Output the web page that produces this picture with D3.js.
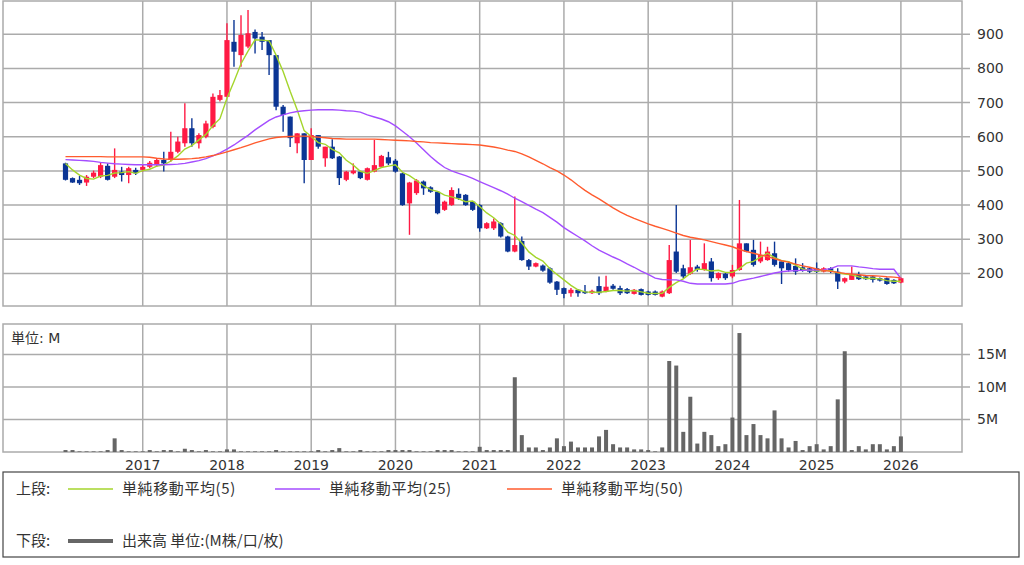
<!DOCTYPE html>
<html><head><meta charset="utf-8">
<script src="https://cdn.jsdelivr.net/npm/d3@7"></script>
<style>body{margin:0;background:#fff;}svg{display:block;}</style>
</head><body><svg id="c" width="1024" height="565"></svg>
<script>
// ---- data (monthly, 2016-02 .. 2026-01) ----
const months = d3.utcMonth.range(new Date(Date.UTC(2016,1,1)), new Date(Date.UTC(2026,1,1))).map(d3.utcFormat("%Y-%m"));
const open  = [522,479,474,466,483,483,515,483,498,488,503,503,512,517,532,532,556,581,625,581,600,629,708,717,878,839,864,907,893,883,839,688,659,581,610,532,605,537,571,542,474,493,498,474,498,512,540,530,493,405,435,469,452,439,386,400,433,430,410,400,332,332,347,308,264,295,239,220,223,215,176,157,142,152,147,142,163,147,164,157,154,140,154,147,147,132,142,264,215,199,220,210,235,186,199,191,210,288,269,235,239,259,235,230,222,218,215,215,205,215,205,176,181,196,191,191,186,186,181,173];
const high  = [524,481,485,488,501,524,522,566,512,512,509,517,529,537,556,615,600,698,654,610,647,727,737,932,942,956,971,914,907,883,839,693,659,610,610,625,605,571,593,544,500,522,500,510,591,547,556,535,495,468,476,472,455,441,413,452,449,432,412,403,350,361,350,310,425,308,242,232,226,218,178,159,157,154,166,152,191,193,169,164,157,154,156,149,150,150,283,400,225,298,225,288,245,203,201,225,415,288,298,293,278,293,239,235,244,230,218,232,218,218,215,188,220,205,193,193,188,188,183,188];
const low   = [472,465,459,456,479,479,472,479,469,464,488,498,508,512,498,527,552,571,571,566,596,625,703,717,805,805,859,844,854,781,678,615,570,552,464,532,565,512,535,459,470,490,476,472,496,510,517,495,398,313,430,430,436,373,383,398,415,398,383,322,330,327,305,262,262,237,210,218,205,170,137,127,132,132,140,140,137,145,152,137,140,138,135,135,135,130,140,201,186,196,205,208,176,181,181,186,208,262,220,230,237,220,169,205,196,205,201,201,203,201,154,171,181,181,181,173,176,167,169,171];
const close = [474,466,464,483,495,517,474,503,488,508,493,512,524,532,522,556,586,625,581,605,639,717,722,883,849,898,903,888,878,839,688,664,596,610,532,605,571,571,537,479,498,501,479,508,517,544,522,498,400,466,472,449,439,376,410,444,420,400,386,332,347,352,308,264,283,239,220,230,208,173,152,140,152,142,142,149,142,161,155,142,142,152,137,137,137,147,239,205,191,218,210,230,186,201,186,210,288,264,225,254,264,225,215,210,205,208,205,205,215,208,176,186,196,183,183,181,179,169,171,186];
const volume = [0.3,0.3,0.1,0.1,0.1,0.1,0.3,2.1,0.3,0.1,0.1,0.1,0.3,0.1,0.3,0.3,0.1,0.5,0.3,0.1,0.3,0.1,0.1,0.4,0.4,0.1,0.1,0.1,0.1,0.1,0.3,0.1,0.1,0.1,0.1,0.1,0.3,0.1,0.3,0.6,0.1,0.1,0.3,0.1,0.1,0.1,0.3,0.3,0.3,0.3,0.1,0.1,0.1,0.3,0.3,0.3,0.1,0.1,0.1,0.8,0.3,0.3,0.3,0.3,11.5,2.6,0.7,0.7,0.3,0.7,2.1,0.9,1.6,0.7,0.7,0.7,2.4,3.4,1.2,0.7,0.7,0.4,0.4,0.3,0.1,0.7,14.0,13.3,3.1,8.5,1.3,3.1,2.6,0.9,1.2,5.3,18.3,2.6,4.3,2.6,2.1,6.4,2.1,0.7,1.7,0.3,0.9,1.2,0.4,0.9,8.1,15.5,0.3,0.9,0.4,1.2,1.2,0.4,0.9,2.4];
const ma5  = [522,503,488,478,476,485,487,494,495,498,493,501,505,514,517,529,544,564,574,591,607,633,653,713,762,814,851,884,883,881,839,791,733,679,618,601,583,578,563,553,531,517,499,493,501,510,514,518,496,486,472,457,445,440,429,424,418,410,412,396,377,363,345,321,311,289,263,247,236,214,197,181,165,152,146,145,145,147,150,150,148,150,146,142,141,142,159,173,184,200,213,211,207,209,203,203,214,230,235,248,259,246,237,234,224,213,209,207,208,208,202,198,196,190,185,186,184,179,177,177];
const ma25 = [533,532,531,530,528,525,523,521,520,519,518,518,518,518,518,519,520,522,526,530,536,544,553,564,576,590,604,620,634,648,658,664,670,674,676,678,679,679,679,678,676,675,672,664,658,652,644,632,616,600,582,562,542,525,510,500,493,486,478,469,460,451,442,432,420,410,399,388,378,364,350,334,321,308,295,281,268,258,248,239,228,218,207,197,186,182,181,181,177,171,169,169,169,169,169,171,178,182,186,191,196,201,205,207,208,209,210,210,211,214,222,222,222,219,217,214,212,212,212,185];
const ma50 = [542,542,542,542,542,542,541,541,541,541,541,541,540,537,535,534,534,535,536,538,541,545,550,556,562,568,575,582,588,594,598,600,601,602,602,601,599,597,595,594,593,593,593,593,593,592,591,590,589,588,586,585,583,582,581,580,579,578,577,576,573,570,566,561,557,550,541,531,521,510,500,488,474,458,443,430,418,405,392,380,370,361,353,345,338,332,325,318,311,306,302,298,293,288,283,278,270,264,259,254,249,243,237,233,227,222,218,213,209,206,203,200,198,196,194,193,192,190,189,187];
const priceTicks = [200,300,400,500,600,700,800,900];
const volTicks = [5,10,15];
const volTickLabels = ["5M","10M","15M"];
const yearLabels = ["2017","2018","2019","2020","2021","2022","2023","2024","2025","2026"];
const legendItems = [
  {label:"単純移動平均(5)", color:"#a4d52c"},
  {label:"単純移動平均(25)", color:"#a44dff"},
  {label:"単純移動平均(50)", color:"#ff5b2e"}
];

// ---- drawing ----
const svg = d3.select("#c");
const FONT = "'DejaVu Sans','Noto Sans CJK JP',sans-serif";
const L = 3, R = 962;
const top1 = 1, bot1 = 306, top2 = 324, bot2 = 452;
const GRID = "#ababab";
const UP = "#ff1a44", DOWN = "#0b3594";

const x = d3.scalePoint().domain(months).range([65.5, 900.9]);
const y = d3.scaleLinear().domain([200, 900]).range([273.4, 34.3]);
const yv = d3.scaleLinear().domain([0, 5]).range([bot2, bot2 - 32.5]);

const yearX = yearLabels.map(yr => x(yr + "-01"));

function panel(t, b) {
  const g = svg.append("g");
  g.append("rect").attr("x", L).attr("y", t).attr("width", R - L).attr("height", b - t)
    .attr("fill", "#fff").attr("stroke", GRID).attr("stroke-width", 1.5);
  g.selectAll("line.v").data(yearX).join("line")
    .attr("x1", d => d).attr("x2", d => d).attr("y1", t).attr("y2", b)
    .attr("stroke", GRID).attr("stroke-width", 1.5);
  return g;
}

// upper panel
const g1 = panel(top1, bot1);
g1.selectAll("line.h").data(priceTicks).join("line")
  .attr("x1", L).attr("x2", R + 8).attr("y1", d => y(d)).attr("y2", d => y(d))
  .attr("stroke", GRID).attr("stroke-width", 1.5);
g1.selectAll("text.yl").data(priceTicks).join("text")
  .attr("x", 977).attr("y", d => y(d)).attr("dy", "0.35em")
  .attr("font-family", FONT).attr("font-size", 14).attr("fill", "#333")
  .text(d => d);

svg.append("clipPath").attr("id", "cp1").append("rect")
  .attr("x", L).attr("y", top1).attr("width", R - L).attr("height", bot1 - top1);
const gc = svg.append("g").attr("clip-path", "url(#cp1)");

const idx = d3.range(months.length);
const cg = gc.selectAll("g.c").data(idx).join("g");
cg.append("line")
  .attr("x1", i => x(months[i])).attr("x2", i => x(months[i]))
  .attr("y1", i => y(high[i])).attr("y2", i => y(low[i]))
  .attr("stroke", i => close[i] >= open[i] ? UP : DOWN).attr("stroke-width", 1.4);
cg.append("rect")
  .attr("x", i => x(months[i]) - 2.6).attr("width", 5.2)
  .attr("y", i => y(Math.max(open[i], close[i])))
  .attr("height", i => Math.max(1.5, Math.abs(y(open[i]) - y(close[i]))))
  .attr("fill", i => close[i] >= open[i] ? UP : DOWN);

const maLines = [ma5, ma25, ma50];
maLines.forEach((arr, k) => {
  gc.append("path")
    .datum(idx)
    .attr("d", d3.line().x(i => x(months[i])).y(i => y(arr[i])))
    .attr("fill", "none").attr("stroke", legendItems[k].color).attr("stroke-width", 1.4);
});

// volume panel
const g2 = panel(top2, bot2);
g2.selectAll("line.h").data(volTicks).join("line")
  .attr("x1", L).attr("x2", R + 8).attr("y1", d => yv(d)).attr("y2", d => yv(d))
  .attr("stroke", GRID).attr("stroke-width", 1.5);
g2.selectAll("text.yl").data(volTicks).join("text")
  .attr("x", 977).attr("y", d => yv(d)).attr("dy", "0.35em")
  .attr("font-family", FONT).attr("font-size", 14).attr("fill", "#333")
  .text((d, i) => volTickLabels[i]);
g2.selectAll("rect.vb").data(idx).join("rect")
  .attr("x", i => x(months[i]) - 2).attr("width", 4)
  .attr("y", i => yv(volume[i])).attr("height", i => bot2 - yv(volume[i]))
  .attr("fill", "#666");
g2.append("text").attr("x", 11).attr("y", 338).attr("dy", "0.35em")
  .attr("font-family", FONT).attr("font-size", 14).attr("fill", "#333").text("単位: M");

// year labels
svg.selectAll("text.yr").data(yearLabels).join("text")
  .attr("x", (d, i) => yearX[i]).attr("y", 465).attr("dy", "0.35em")
  .attr("text-anchor", "middle")
  .attr("font-family", FONT).attr("font-size", 14).attr("fill", "#333")
  .text(d => d);

// legend
const lg = svg.append("g");
lg.append("rect").attr("x", 3).attr("y", 472).attr("width", 1016).attr("height", 85)
  .attr("fill", "#fff").attr("stroke", "#444").attr("stroke-width", 1.2);
const LF = "'Noto Sans CJK JP',sans-serif";
lg.append("text").attr("x", 16).attr("y", 489).attr("dy", "0.35em")
  .attr("font-family", LF).attr("font-size", 15).attr("fill", "#333").text("上段:");
const legX = [68, 275, 507];
legendItems.forEach((it, k) => {
  lg.append("line").attr("x1", legX[k]).attr("x2", legX[k] + 45).attr("y1", 489).attr("y2", 489)
    .attr("stroke", it.color).attr("stroke-width", 1.5);
  lg.append("text").attr("x", legX[k] + 54).attr("y", 489).attr("dy", "0.35em")
    .attr("font-family", LF).attr("font-size", 15).attr("letter-spacing", 0.6).attr("fill", "#333").text(it.label);
});
lg.append("text").attr("x", 16).attr("y", 541).attr("dy", "0.35em")
  .attr("font-family", LF).attr("font-size", 15).attr("fill", "#333").text("下段:");
lg.append("line").attr("x1", 68).attr("x2", 113).attr("y1", 541).attr("y2", 541)
  .attr("stroke", "#666").attr("stroke-width", 4);
lg.append("text").attr("x", 122).attr("y", 541).attr("dy", "0.35em")
  .attr("font-family", LF).attr("font-size", 15).attr("fill", "#333").text("出来高 単位:(M株/口/枚)");
</script></body></html>
